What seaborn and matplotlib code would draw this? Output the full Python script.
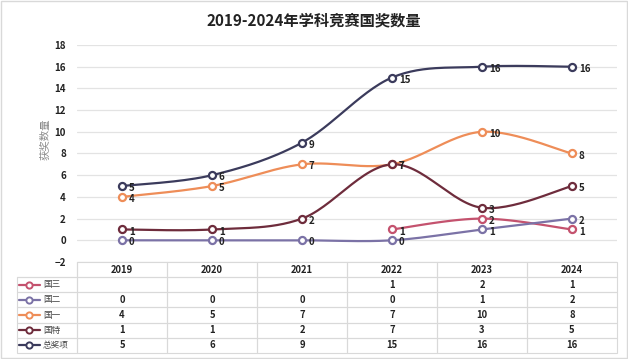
import numpy as np
import pandas as pd
import matplotlib
matplotlib.use('Agg')
import matplotlib.pyplot as plt
import seaborn as sns
from matplotlib.patches import Rectangle

# --- data ---
years = ['2019', '2020', '2021', '2022', '2023', '2024']
series_names = ['国三', '国二', '国一', '国特', '总奖项']
guo_san = [np.nan, np.nan, np.nan, 1, 2, 1]
guo_er = [0, 0, 0, 0, 1, 2]
guo_yi = [4, 5, 7, 7, 10, 8]
guo_te = [1, 1, 2, 7, 3, 5]
total = [5, 6, 9, 15, 16, 16]
series_values = [guo_san, guo_er, guo_yi, guo_te, total]
colors = ['#C4526E', '#7B72A6', '#EE8D58', '#6E2C3C', '#3B3B5C']


def bezier_smooth(xs, ys, n=30):
    """Excel-style smoothed line: cubic Bezier through the points."""
    pts = np.column_stack([xs, ys]).astype(float)
    k = len(pts)
    out = []
    for i in range(k - 1):
        p0, p3 = pts[i], pts[i + 1]
        prev = pts[i - 1] if i > 0 else pts[i]
        nxt = pts[i + 2] if i + 2 < k else pts[i + 1]
        p1 = p0 + (p3 - prev) / 6
        p2 = p3 - (nxt - p0) / 6
        t = np.linspace(0, 1, n)[:, None]
        seg = (1 - t) ** 3 * p0 + 3 * (1 - t) ** 2 * t * p1 + 3 * (1 - t) * t ** 2 * p2 + t ** 3 * p3
        out.append(seg if i == 0 else seg[1:])
    return np.vstack(out)


sns.set_style('white')
plt.rcParams['font.family'] = ['Noto Sans CJK SC', 'DejaVu Sans']

fig = plt.figure(figsize=(6.28, 3.59), dpi=100)
ax = fig.add_axes([77 / 628, 1 - 262 / 359, 540 / 628, 217 / 359])

for name, vals, c in zip(series_names, series_values, colors):
    df = pd.DataFrame({'x': np.arange(len(years)), 'y': vals}).dropna()
    curve = bezier_smooth(df['x'].values, df['y'].values)
    sns.lineplot(x=curve[:, 0], y=curve[:, 1], sort=False, estimator=None,
                 color=c, linewidth=1.6, ax=ax, zorder=3)
    sns.scatterplot(x=df['x'], y=df['y'], marker='o', s=26, facecolor='white',
                    edgecolor=c, linewidth=1.6, ax=ax, zorder=4)
    for xi, yi in zip(df['x'], df['y']):
        ax.annotate(f'{int(yi)}', (xi, yi), xytext=(5, -1.5), textcoords='offset points',
                    fontsize=7, fontweight='bold', color='#222222', va='center', ha='left',
                    zorder=5)

ax.set_xlim(-0.5, 5.5)
ax.set_ylim(-2, 18)
ax.set_yticks(range(-2, 19, 2))
ax.set_xticks([])
ax.yaxis.grid(True, color='#E3E3E3', linewidth=0.9)
ax.tick_params(axis='y', length=0, pad=8, labelsize=7, labelcolor='#222222')
for lab in ax.get_yticklabels():
    lab.set_fontweight('bold')
for sp in ax.spines.values():
    sp.set_visible(False)
ax.set_xlabel('')
ax.set_ylabel('')
ax.text(-0.058, 0.567, '获奖数量', transform=ax.transAxes, rotation=90,
        fontsize=7.5, color='#8A8A8A', ha='center', va='center')

# --- data table under the plot (first column holds the legend keys) ---
cell_text = [[''] + ['' if np.isnan(v) else f'{int(v)}' for v in vals] for vals in series_values]
tbl = ax.table(cellText=cell_text, colLabels=[''] + years,
               colWidths=[0.1] + [0.15] * 6, cellLoc='center',
               bbox=[-0.111, -0.419, 1.111, 0.419])
tbl.auto_set_font_size(False)
tbl.set_fontsize(6.8)
for (r, c), cell in tbl.get_celld().items():
    cell.set_edgecolor('#D9D9D9')
    cell.set_linewidth(0.8)
    cell.get_text().set_fontweight('bold')
    cell.get_text().set_color('#222222')
    cell.set_facecolor('none')
tbl[0, 0].visible_edges = 'BR'

# legend keys in the label column
row_h = 0.419 / 6
for r, (name, c) in enumerate(zip(series_names, colors)):
    yc = -(r + 1.5) * row_h
    ax.plot([-0.107, -0.069], [yc, yc], color=c, linewidth=1.6,
            transform=ax.transAxes, clip_on=False)
    ax.plot([-0.088], [yc], marker='o', markersize=4.5, mfc='white', mec=c, mew=1.4,
            transform=ax.transAxes, clip_on=False)
    ax.text(-0.063, yc, name, transform=ax.transAxes, fontsize=6.2, color='#444444',
            ha='left', va='center')

fig.text(0.5, 0.944, '2019-2024年学科竞赛国奖数量', ha='center', va='center',
         fontsize=11, fontweight='bold', color='#222222')
fig.patches.append(Rectangle((0.002, 0.003), 0.996, 0.994, transform=fig.transFigure,
                             fill=False, edgecolor='#D9D9D9', linewidth=1))

fig.savefig('out.png', dpi=100)
